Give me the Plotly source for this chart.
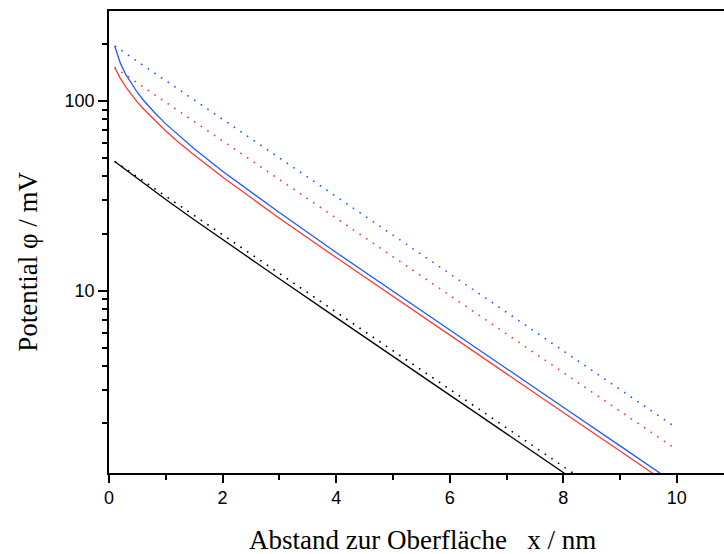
import plotly.graph_objects as go

# distance from surface (nm)
x_solid = [0.1, 0.2, 0.3, 0.4, 0.5, 0.6, 0.8, 1.0, 1.25, 1.5, 2.0, 2.5, 3.0, 4.0, 5.0, 6.0, 7.0, 8.0, 9.0, 10.0]
blue_solid = [194.7, 158.2, 137.1, 122.2, 110.8, 101.5, 86.9, 75.7, 64.7, 55.9, 42.6, 33.0, 25.8, 15.9, 9.92, 6.20, 3.88, 2.43, 1.52, 0.95]
red_solid = [150.0, 131.5, 118.0, 107.4, 98.6, 91.2, 79.1, 69.4, 59.7, 51.9, 39.7, 30.9, 24.1, 14.94, 9.32, 5.82, 3.64, 2.28, 1.43, 0.89]

x_black = [0.1, 0.5, 1.0, 1.5, 2.0, 3.0, 4.0, 5.0, 6.0, 7.0, 8.0, 9.0, 10.0]
black_solid = [48.0, 38.9, 30.2, 23.65, 18.58, 11.55, 7.21, 4.51, 2.82, 1.77, 1.106, 0.69, 0.43]

x_dot = [0.1, 2.0, 4.0, 6.0, 8.0, 10.0]
blue_dot = [195.0, 80.0, 31.4, 12.29, 4.81, 1.886]
red_dot = [150.0, 61.6, 24.1, 9.45, 3.70, 1.45]
black_dot = [48.0, 19.70, 7.72, 3.02, 1.185, 0.464]

x_ticks = [0, 2, 4, 6, 8, 10]
y_ticks = [10, 100]
y_minor = [2, 3, 4, 5, 6, 7, 8, 9, 20, 30, 40, 50, 60, 70, 80, 90, 200]

BLUE = "#1f5cff"
RED = "#ff3b2b"
BLACK = "#000000"
DOT = "1.6px,6.4px"

fig = go.Figure()
fig.add_trace(go.Scatter(x=x_black, y=black_solid, mode="lines", line=dict(color=BLACK, width=1.3)))
fig.add_trace(go.Scatter(x=x_dot, y=black_dot, mode="lines", line=dict(color=BLACK, width=1.6, dash=DOT)))
fig.add_trace(go.Scatter(x=x_solid, y=red_solid, mode="lines", line=dict(color=RED, width=1.3)))
fig.add_trace(go.Scatter(x=x_dot, y=red_dot, mode="lines", line=dict(color=RED, width=1.6, dash=DOT)))
fig.add_trace(go.Scatter(x=x_solid, y=blue_solid, mode="lines", line=dict(color=BLUE, width=1.3)))
fig.add_trace(go.Scatter(x=x_dot, y=blue_dot, mode="lines", line=dict(color=BLUE, width=1.6, dash=DOT)))

tick_font = dict(family="Liberation Sans, Arial, sans-serif", size=18, color="black")
title_font = dict(family="Liberation Serif, Times New Roman, serif", size=27, color="black")

fig.update_layout(
    width=724, height=554,
    margin=dict(l=109, r=0, t=11, b=81),
    paper_bgcolor="white", plot_bgcolor="white",
    showlegend=False,
    xaxis=dict(
        range=[0, 10.83], showgrid=False, zeroline=False,
        showline=True, linecolor="black", linewidth=1.6, mirror=True,
        tickmode="array", tickvals=x_ticks, ticktext=[str(v) for v in x_ticks],
        ticks="outside", ticklen=8, tickwidth=1.5, tickcolor="black",
        tickfont=tick_font,
        minor=dict(dtick=1, tick0=0, ticks="outside", ticklen=5, tickwidth=1.5, tickcolor="black", showgrid=False),
    ),
    yaxis=dict(
        type="log", range=[0.039, 2.474], showgrid=False, zeroline=False,
        showline=True, linecolor="black", linewidth=1.6, mirror=False,
        tickmode="array", tickvals=y_ticks, ticktext=[str(v) for v in y_ticks],
        ticks="outside", ticklen=9, tickwidth=1.5, tickcolor="black",
        tickfont=tick_font,
        minor=dict(tickmode="array", tickvals=y_minor, ticks="outside", ticklen=5, tickwidth=1.5, tickcolor="black", showgrid=False),
    ),
    annotations=[
        dict(text="Abstand zur Oberfläche\u00a0\u00a0\u00a0x / nm", xref="paper", yref="paper",
             x=0.509, y=-0.145, xanchor="center", yanchor="middle", showarrow=False, font=title_font),
        dict(text="Potential φ / mV", xref="paper", yref="paper", textangle=-90,
             x=-0.131, y=0.458, xanchor="center", yanchor="middle", showarrow=False, font=title_font),
    ],
)

# remove the page's default body margin so the 724x554 figure fills the window exactly
fig.write_html(
    "out.html",
    config={"displayModeBar": False},
    post_script="document.body.style.margin='0';document.body.style.overflow='hidden';",
)
